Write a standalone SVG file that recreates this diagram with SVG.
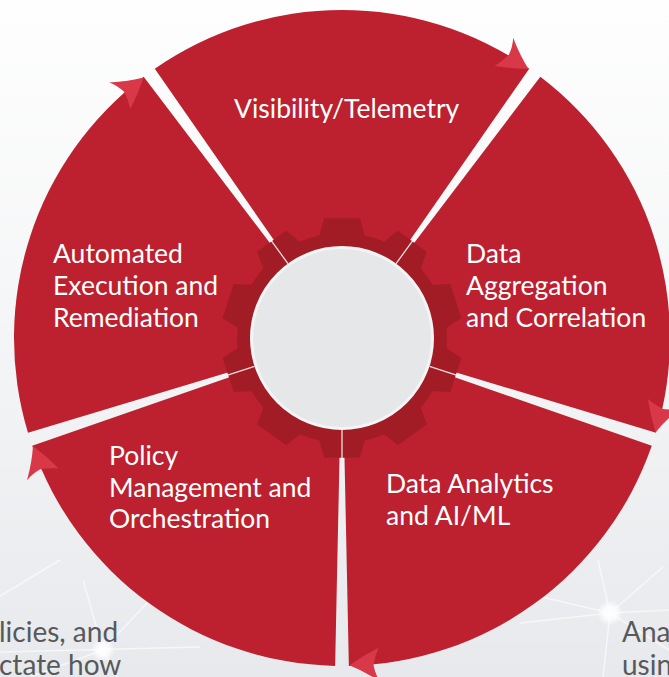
<svg xmlns="http://www.w3.org/2000/svg" width="669" height="677" viewBox="0 0 669 677">
<defs>
<linearGradient id="bg" x1="0" y1="0" x2="0" y2="1">
<stop offset="0" stop-color="#fefefe"/>
<stop offset="0.45" stop-color="#f5f6f7"/>
<stop offset="1" stop-color="#e7e9ec"/>
</linearGradient>
<radialGradient id="glow">
<stop offset="0" stop-color="#ffffff" stop-opacity="1"/>
<stop offset="0.5" stop-color="#ffffff" stop-opacity="0.8"/>
<stop offset="1" stop-color="#ffffff" stop-opacity="0"/>
</radialGradient>
<path id="wedge" d="M0 0 L-187.19 -269.34 A328 328 0 0 1 187.19 -269.34 Z"/>
<path id="arrow" d="M-7.3 -327.3 Q-22 -333 -38 -343.5 Q-33 -336 -31.5 -327 Q-33 -318 -36.5 -309.7 Q-22 -317 -7.3 -327.3 Z"/>
<polygon id="tooth" points="-23.2,-100.4 -17.9,-119.7 17.9,-119.7 23.2,-100.4"/>
<line id="seam" x1="0" y1="-92" x2="0" y2="-121"/>
</defs>
<style>
.seg{fill:#bd202e}
.arr{fill:#d83848}
.gear{fill:#a21c25}
.seam{stroke:#ffffff;stroke-width:1.3;stroke-opacity:0.85}
.lbl{font-family:Lato,"Liberation Sans",sans-serif;font-size:26.5px;fill:#ffffff}
.bgt{font-family:Lato,"Liberation Sans",sans-serif;font-size:28px;fill:#58595b}
.net{stroke:#ffffff;stroke-width:1.5;stroke-opacity:0.6;fill:none}
</style>
<rect width="669" height="677" fill="url(#bg)"/>
<g id="background">
<path class="net" d="M83 580 L103 650 L147 603 M0 652 L200 647 M103 650 L117 677 M0 596 L60 560 M30 677 L103 650 M140 560 L147 603 L200 620"/>
<path class="net" d="M520 592 L610 613 L598 560 M610 613 L663 567 M610 613 L669 610 M520 623 L610 613 L603 677 M540 560 L520 592 M669 650 L610 613"/>
<circle cx="103" cy="650" r="12" fill="url(#glow)"/>
<circle cx="610" cy="613" r="13" fill="url(#glow)"/>
<text class="bgt" x="-1" y="642">licies, and</text>
<text class="bgt" x="-1" y="675">ctate how</text>
<text class="bgt" x="622" y="642">Ana</text>
<text class="bgt" x="622" y="675">usin</text>
</g>
<g id="visibility">
<use href="#wedge" class="seg" transform="translate(342 338)"/>
<use href="#arrow" class="arr" transform="translate(342 338) rotate(36)"/>
<text class="lbl" x="234" y="118">Visibility/Telemetry</text>
</g>
<g id="aggregation">
<use href="#wedge" class="seg" transform="translate(342 338) rotate(72)"/>
<use href="#arrow" class="arr" transform="translate(342 338) rotate(108)"/>
<text class="lbl" x="466" y="263">Data</text>
<text class="lbl" x="466" y="295">Aggregation</text>
<text class="lbl" x="466" y="327">and Correlation</text>
</g>
<g id="analytics">
<use href="#wedge" class="seg" transform="translate(342 338) rotate(144)"/>
<use href="#arrow" class="arr" transform="translate(342 338) rotate(180)"/>
<text class="lbl" x="386" y="493">Data Analytics</text>
<text class="lbl" x="386" y="525">and AI/ML</text>
</g>
<g id="policy">
<use href="#wedge" class="seg" transform="translate(342 338) rotate(216)"/>
<use href="#arrow" class="arr" transform="translate(342 338) rotate(252)"/>
<text class="lbl" x="109" y="465">Policy</text>
<text class="lbl" x="109" y="497">Management and</text>
<text class="lbl" x="109" y="528">Orchestration</text>
</g>
<g id="automation">
<use href="#wedge" class="seg" transform="translate(342 338) rotate(288)"/>
<use href="#arrow" class="arr" transform="translate(342 338) rotate(324)"/>
<text class="lbl" x="53" y="263">Automated</text>
<text class="lbl" x="53" y="295">Execution and</text>
<text class="lbl" x="53" y="327">Remediation</text>
</g>
<g id="hub" transform="translate(342 338)">
<circle r="105" class="gear"/>
<use href="#tooth" class="gear"/>
<use href="#tooth" class="gear" transform="rotate(36)"/>
<use href="#tooth" class="gear" transform="rotate(72)"/>
<use href="#tooth" class="gear" transform="rotate(108)"/>
<use href="#tooth" class="gear" transform="rotate(144)"/>
<use href="#tooth" class="gear" transform="rotate(180)"/>
<use href="#tooth" class="gear" transform="rotate(216)"/>
<use href="#tooth" class="gear" transform="rotate(252)"/>
<use href="#tooth" class="gear" transform="rotate(288)"/>
<use href="#tooth" class="gear" transform="rotate(324)"/>
<g id="connectors">
<use href="#seam" class="seam" transform="rotate(36)"/>
<use href="#seam" class="seam" transform="rotate(108)"/>
<use href="#seam" class="seam" transform="rotate(180)"/>
<use href="#seam" class="seam" transform="rotate(252)"/>
<use href="#seam" class="seam" transform="rotate(324)"/>
</g>
<circle r="90.5" fill="#e6e7e8" stroke="#f3f4f5" stroke-width="3"/>
</g>
</svg>
